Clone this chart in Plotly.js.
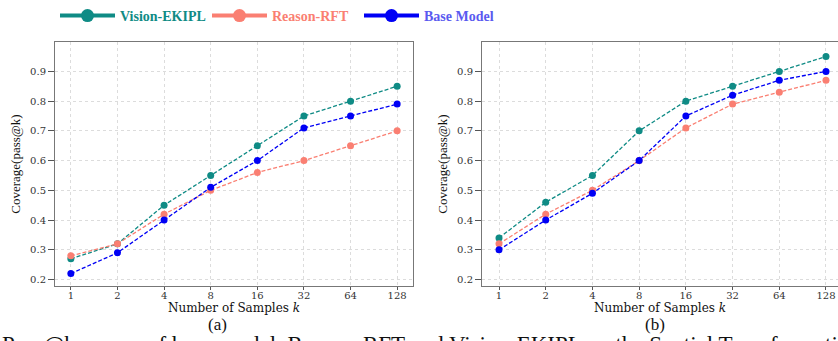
<!DOCTYPE html>
<html>
<head>
<meta charset="utf-8">
<script src="https://cdn.plot.ly/plotly-3.0.1.min.js"></script>
<style>html,body{margin:0;padding:0;background:#fff;}#chart{width:838px;height:341px;}</style>
</head>
<body>
<div id="chart"></div>
<script>
// ---- data ----
const kLabels = ["1", "2", "4", "8", "16", "32", "64", "128"];
const seriesNames = ["Vision-EKIPL", "Reason-RFT", "Base Model"];
const visionA = [0.27, 0.32, 0.45, 0.55, 0.65, 0.75, 0.80, 0.85];
const reasonA = [0.28, 0.32, 0.42, 0.50, 0.56, 0.60, 0.65, 0.70];
const baseA   = [0.22, 0.29, 0.40, 0.51, 0.60, 0.71, 0.75, 0.79];
const visionB = [0.34, 0.46, 0.55, 0.70, 0.80, 0.85, 0.90, 0.95];
const reasonB = [0.32, 0.42, 0.50, 0.60, 0.71, 0.79, 0.83, 0.87];
const baseB   = [0.30, 0.40, 0.49, 0.60, 0.75, 0.82, 0.87, 0.90];
const yTicks  = [0.2, 0.3, 0.4, 0.5, 0.6, 0.7, 0.8, 0.9];
const panelLabels = ["(a)", "(b)"];
const captionText = "Pass@k curves of base model, Reason-RFT and Vision-EKIPL on the Spatial Transformation task";

// ---- styles ----
const colors = ["#0f8b85", "#fa7f72", "#0000f5"];
const textColors = ["#0f8b85", "#fa7f72", "#5a5af0"];
const W = 838, H = 341;

function lineTrace(y, i, xa, ya) {
  return {
    type: "scatter", mode: "lines+markers",
    x: kLabels, y: y, xaxis: xa, yaxis: ya,
    name: seriesNames[i], showlegend: false,
    line: {color: colors[i], width: 1.3, dash: "4px,2px"},
    marker: {color: colors[i], size: 7, symbol: "circle"},
    hoverinfo: "x+y+name"
  };
}
function legendTrace(i) {
  return {
    type: "scatter", mode: "lines+markers",
    x: [null], y: [null], xaxis: "x", yaxis: "y",
    name: '<b><span style="color:' + textColors[i] + '">' + seriesNames[i] + '</span></b>',
    showlegend: true,
    line: {color: colors[i], width: 4},
    marker: {color: colors[i], size: 13}
  };
}

const dataA = [visionA, reasonA, baseA];
const dataB = [visionB, reasonB, baseB];
const traces = [];
for (let i = 0; i < 3; i++) traces.push(legendTrace(i));
for (let i = 0; i < 3; i++) traces.push(lineTrace(dataA[i], i, "x", "y"));
for (let i = 0; i < 3; i++) traces.push(lineTrace(dataB[i], i, "x2", "y2"));

const tickFont = {family: "DejaVu Serif", size: 10, color: "#333"};
const yTitleFont = {family: "Liberation Serif", size: 13, color: "#111"};
const xTitleFont = {family: "DejaVu Serif", size: 12, color: "#111"};

function xAxis(domain, range) {
  return {
    domain: domain, type: "category", range: range,
    tickvals: kLabels, ticktext: kLabels,
    tickfont: tickFont, ticks: "outside", ticklen: 3, tickcolor: "#555",
    ticklabelstandoff: -3,
    showline: true, linecolor: "#777", linewidth: 1, mirror: true,
    showgrid: true, gridcolor: "#dcdcdc", griddash: "dot", gridwidth: 1,
    zeroline: false, fixedrange: true,
    title: {text: "Number of Samples <i>k</i>", font: xTitleFont, standoff: 2}
  };
}
function yAxis(domain, anchor) {
  return {
    domain: domain, anchor: anchor, range: [0.1767, 1.0],
    tickvals: yTicks, ticktext: yTicks.map(v => v.toFixed(1)),
    tickfont: tickFont, ticks: "outside", ticklen: 6, tickcolor: "#555",
    showline: true, linecolor: "#777", linewidth: 1, mirror: true,
    showgrid: true, gridcolor: "#dcdcdc", griddash: "dot", gridwidth: 1,
    zeroline: false, fixedrange: true,
    title: {text: "Coverage(pass@k)", font: yTitleFont, standoff: 6}
  };
}

const yDom = [1 - 286 / H, 1 - 39 / H];
const layout = {
  width: W, height: H,
  margin: {l: 0, r: 0, t: 0, b: 0, pad: 0},
  paper_bgcolor: "#fff", plot_bgcolor: "#fff",
  showlegend: true,
  legend: {
    orientation: "h", x: 55 / W, xanchor: "left", y: 1 - 13 / H, yanchor: "middle",
    font: {family: "Liberation Sans Narrow", size: 14},
    itemwidth: 55, entrywidth: 82, entrywidthmode: "pixels",
    tracegroupgap: 0, bgcolor: "rgba(0,0,0,0)",
    itemclick: false, itemdoubleclick: false
  },
  xaxis: Object.assign(xAxis([55 / W, 413 / W], [-0.34, 7.34]), {anchor: "y"}),
  yaxis: yAxis(yDom, "x"),
  xaxis2: Object.assign(xAxis([482 / W, 1], [-0.364, 7.257]), {anchor: "y2"}),
  yaxis2: yAxis(yDom, "x2"),
  annotations: [
    {text: panelLabels[0], xref: "paper", yref: "paper", x: 217 / W, y: 1 - 324 / H,
     xanchor: "center", yanchor: "middle", showarrow: false,
     font: {family: "Liberation Serif", size: 17, color: "#111"}},
    {text: panelLabels[1], xref: "paper", yref: "paper", x: 655 / W, y: 1 - 324 / H,
     xanchor: "center", yanchor: "middle", showarrow: false,
     font: {family: "Liberation Serif", size: 17, color: "#111"}},
    {text: captionText, xref: "paper", yref: "paper", x: 0, y: 1 - 330 / H,
     xanchor: "left", yanchor: "top", showarrow: false, align: "left",
     font: {family: "Liberation Serif", size: 23, color: "#111"}}
  ]
};

Plotly.newPlot("chart", traces, layout, {displayModeBar: false, staticPlot: true});
</script>
</body>
</html>
